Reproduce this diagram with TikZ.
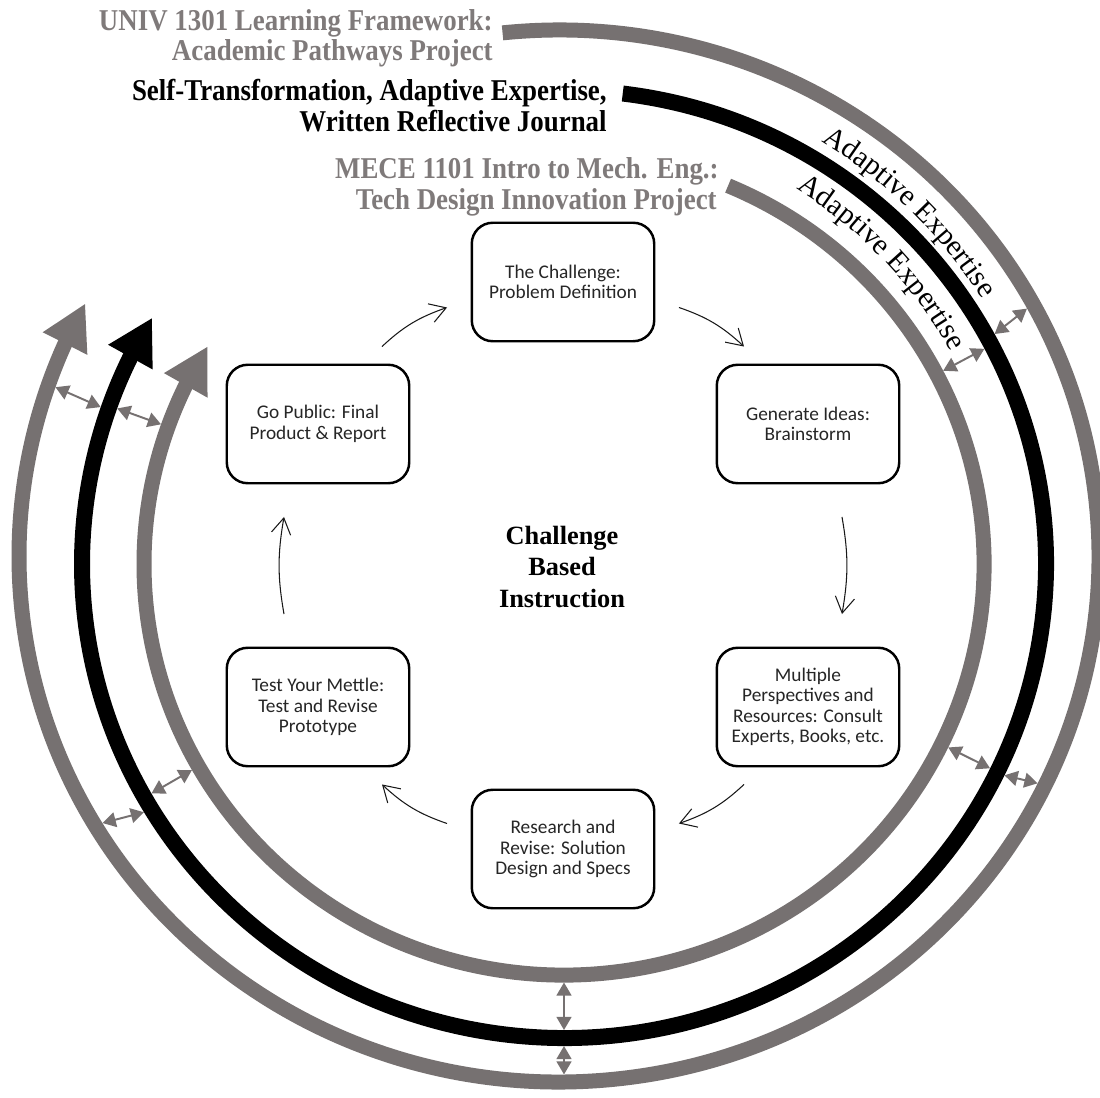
\documentclass[tikz,border=0pt]{standalone}
\usepackage{fontspec}
\setmainfont{Liberation Serif}
\newfontfamily\boxfont{Carlito}
\newfontfamily\condfont[FakeStretch=0.89]{Liberation Serif}
\usetikzlibrary{arrows.meta,calc,decorations.text,bending}
\definecolor{arcgray}{RGB}{118,113,113}
\definecolor{tgray}{RGB}{127,122,122}
\newcommand\aefont{\fontsize{16.8}{18}\selectfont}
\tikzset{
  garc/.style={draw=arcgray, line width=0.30cm, -{Triangle[length=0.9cm,width=0.93cm]}},
  barc/.style={draw=black, line width=0.32cm, -{Triangle[length=0.9cm,width=0.95cm]}},
  stepbox/.style={draw=black, line width=1.4pt, rounded corners=0.42cm,
    minimum width=3.65cm, minimum height=2.37cm, inner sep=0pt, align=center,
    font=\boxfont\fontsize{11}{11.7}\selectfont, text=black!85},
  flow/.style={draw=black!90, line width=0.6pt, -{Straight Barb[length=9pt,width=11pt]}},
  dbl/.style={draw=arcgray, line width=1.1pt,
    {Triangle[length=7.5pt,width=8.5pt]}-{Triangle[length=7.5pt,width=8.5pt]}},
  ttl/.style={inner sep=0pt, anchor=base east,
    font=\condfont\bfseries\fontsize{17.2}{17.2}\selectfont},
  aetext/.style={decorate, decoration={text along path,
    text={|\aefont|Adaptive Expertise}, text align=center, text color=#1}},
}
\begin{document}
\begin{tikzpicture}[x=0.02cm, y=0.02cm]
\fill[white] (0,0) rectangle (1100,-1098);
\useasboundingbox (0,0) rectangle (1100,-1098);
\coordinate (Co) at (559,-556);
\coordinate (Cb) at (564,-564);
\coordinate (Ci) at (564,-564);

% big arcs
\draw[garc] ($(Co)+(96:540 and 526)$) arc[start angle=96, end angle=-208.7, x radius=540, y radius=526];
\draw[barc] ($(Cb)+(83:482 and 474)$) arc[start angle=83, end angle=-211.3, x radius=482, y radius=474];
\draw[garc] ($(Ci)+(67:420 and 411)$) arc[start angle=67, end angle=-212, x radius=420, y radius=411];

% double arrows between arcs
\draw[dbl] ($(Co)+(28.5:532.5 and 518.5)$) -- ($(Cb)+(28.5:490 and 482)$);
\draw[dbl] ($(Cb)+(27.5:474 and 466)$) -- ($(Ci)+(27.5:427.5 and 418.5)$);
\draw[dbl] ($(Co)+(161:532.5 and 518.5)$) -- ($(Cb)+(161:490 and 482)$);
\draw[dbl] ($(Cb)+(160.5:474 and 466)$) -- ($(Ci)+(160.5:427.5 and 418.5)$);
\draw[dbl] ($(Co)+(211:532.5 and 518.5)$) -- ($(Cb)+(211:490 and 482)$);
\draw[dbl] ($(Cb)+(209.5:474 and 466)$) -- ($(Ci)+(209.5:427.5 and 418.5)$);
\draw[dbl] ($(Co)+(-26:532.5 and 518.5)$) -- ($(Cb)+(-26:490 and 482)$);
\draw[dbl] ($(Cb)+(-26:474 and 466)$) -- ($(Ci)+(-26:427.5 and 418.5)$);
\draw[dbl] ($(Co)+(-89.46:532.5 and 518.5)$) -- ($(Cb)+(-90:490 and 482)$);
\draw[dbl] ($(Cb)+(-90:474 and 466)$) -- ($(Ci)+(-90:427.5 and 418.5)$);

% curved labels
\path[aetext=black] ($(Cb)+(80.5:495)$) arc[start angle=80.5, end angle=10.5, radius=495];
\path[aetext=black] ($(Cb)+(78.5:441)$) arc[start angle=78.5, end angle=8.5, radius=441];

% titles
\node[ttl, text=tgray] (univa) at (493,-31) {UNIV 1301 Learning Framework:};
\node[ttl, text=tgray] (univb) at (493,-61) {Academic Pathways Project};
\node[ttl] (selfa) at (607,-101) {Self-Transformation, Adaptive Expertise,};
\node[ttl] (selfb) at (607,-132) {Written Reflective Journal};
\node[ttl, text=tgray] (mecea) at (719,-179) {MECE 1101 Intro to Mech. Eng.:};
\node[ttl, text=tgray] (meceb) at (717,-210) {Tech Design Innovation Project};

% centre label
\node[font=\bfseries\fontsize{15}{18}\selectfont, align=center, inner sep=0pt] (cbi) at (562,-567) {Challenge\\Based\\Instruction};

% step boxes
\node[stepbox] (chal) at (563,-282) {The Challenge:\\Problem Definition};
\node[stepbox] (gen) at (808,-424) {Generate Ideas:\\Brainstorm};
\node[stepbox] (mult) at (808,-707) {Multiple\\Perspectives and\\Resources: Consult\\Experts, Books, etc.};
\node[stepbox] (res) at (563,-849) {Research and\\Revise: Solution\\Design and Specs};
\node[stepbox] (test) at (318,-707) {Test Your Mettle:\\Test and Revise\\Prototype};
\node[stepbox] (gopub) at (318,-424) {Go Public: Final\\Product \& Report};

% flow arrows
\draw[flow] ($(gopub.north)+(64,17)$) to[bend left=12] ($(chal.west)+(-23.5,-25.5)$);
\draw[flow] ($(chal.east)+(23.5,-25.5)$) to[bend left=12] ($(gen.north)+(-64,17)$);
\draw[flow] ($(gen.south)+(34,-32.5)$) to[bend left=10] ($(mult.north)+(34,32.5)$);
\draw[flow] ($(mult.south)+(-64,-17)$) to[bend left=12] ($(res.east)+(23.5,25.5)$);
\draw[flow] ($(res.west)+(-23.5,25.5)$) to[bend left=12] ($(test.south)+(64,-17)$);
\draw[flow] ($(test.north)+(-34,32.5)$) to[bend left=10] ($(gopub.south)+(-34,-32.5)$);
\end{tikzpicture}
\end{document}
